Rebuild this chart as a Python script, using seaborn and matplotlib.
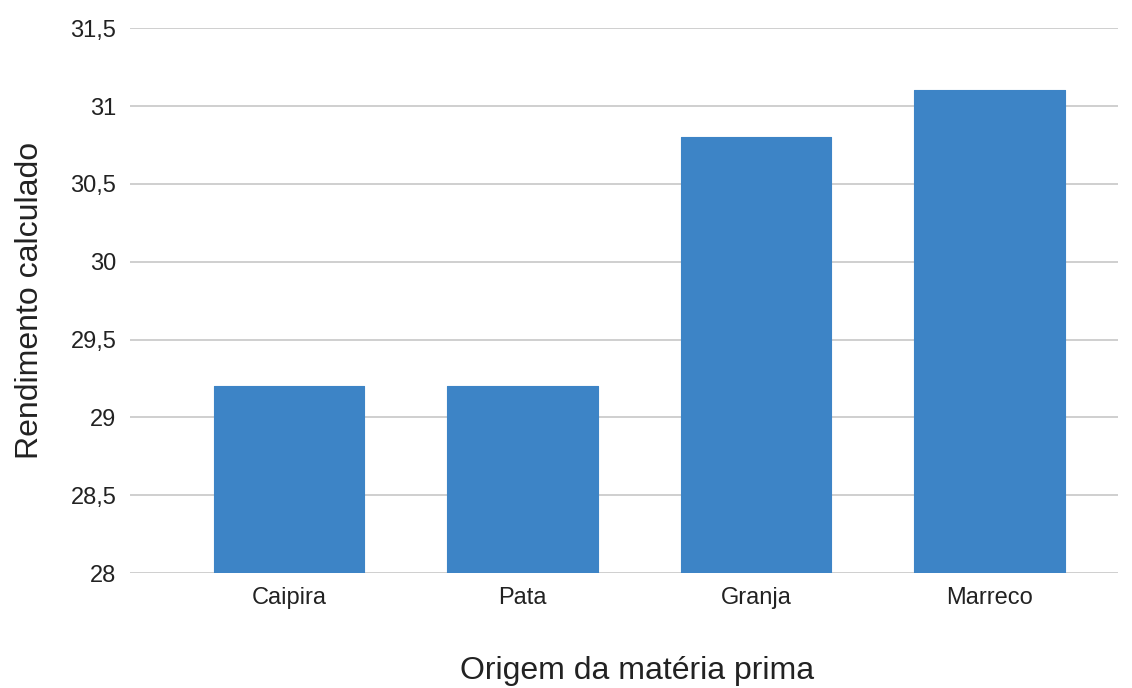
import matplotlib
matplotlib.use("Agg")
import matplotlib.pyplot as plt
from matplotlib.ticker import FuncFormatter, MultipleLocator
import seaborn as sns
import pandas as pd

categorias = ["Caipira", "Pata", "Granja", "Marreco"]
rendimento = [29.2, 29.2, 30.8, 31.1]

df = pd.DataFrame({"origem": categorias, "rendimento": rendimento})

sns.set_theme(style="white")
plt.rcParams["font.family"] = ["Liberation Sans", "DejaVu Sans"]

fig = plt.figure(figsize=(11.32, 6.88), dpi=100)
ax = fig.add_axes([0.115, 0.167, 0.8726, 0.792])

sns.barplot(data=df, x="origem", y="rendimento", color="#3d84c6",
            saturation=1, width=0.643, ax=ax, zorder=3)
for bar in ax.patches:
    bar.set_edgecolor("#3d84c6")
    bar.set_linewidth(0.8)
    bar.set_joinstyle("round")

ax.set_ylim(28, 31.5)
ax.set_xlim(-0.68, 3.55)
ax.yaxis.set_major_locator(MultipleLocator(0.5))
ax.yaxis.set_major_formatter(FuncFormatter(lambda v, p: f"{v:g}".replace(".", ",")))
ax.grid(axis="y", color="#cccccc", linewidth=1.3, zorder=0)
ax.set_axisbelow(True)

for s in ax.spines.values():
    s.set_visible(False)
ax.tick_params(axis="both", length=0, labelsize=17, colors="#222222")
ax.tick_params(axis="y", pad=10)
ax.tick_params(axis="x", pad=10)

ax.set_xlabel("Origem da matéria prima", fontsize=23, color="#222222")
ax.xaxis.set_label_coords(0.513, -0.153)
ax.set_ylabel("Rendimento calculado", fontsize=23, color="#222222", labelpad=18)

fig.savefig("out.png", dpi=100, facecolor="white")
